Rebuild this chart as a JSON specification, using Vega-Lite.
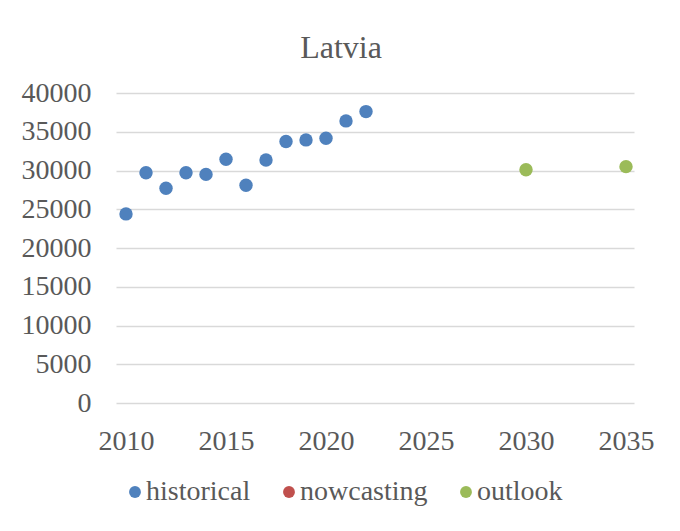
{
  "$schema": "https://vega.github.io/schema/vega-lite/v6.json",
  "width": 518,
  "height": 310,
  "autosize": {"type": "none"},
  "padding": {"left": 116, "top": 93, "right": 46, "bottom": 128},
  "background": "white",
  "title": {"text": "Latvia", "font": "Liberation Serif", "fontSize": 32, "fontWeight": "normal", "color": "#595959", "anchor": "middle", "dx": -34, "offset": -18, "baseline": "bottom"},
  "config": {"view": {"stroke": null}},
  "data": {"values": [
    {"year": 2010, "value": 24400, "series": "historical"},
    {"year": 2011, "value": 29700, "series": "historical"},
    {"year": 2012, "value": 27700, "series": "historical"},
    {"year": 2013, "value": 29700, "series": "historical"},
    {"year": 2014, "value": 29500, "series": "historical"},
    {"year": 2015, "value": 31450, "series": "historical"},
    {"year": 2016, "value": 28100, "series": "historical"},
    {"year": 2017, "value": 31350, "series": "historical"},
    {"year": 2018, "value": 33750, "series": "historical"},
    {"year": 2019, "value": 33950, "series": "historical"},
    {"year": 2020, "value": 34170, "series": "historical"},
    {"year": 2021, "value": 36400, "series": "historical"},
    {"year": 2022, "value": 37600, "series": "historical"},
    {"year": 2030, "value": 30100, "series": "outlook"},
    {"year": 2035, "value": 30500, "series": "outlook"}
  ]},
  "mark": {"type": "point", "filled": true, "opacity": 1, "size": 180, "shape": "circle"},
  "encoding": {
    "x": {"field": "year", "type": "quantitative",
      "scale": {"domain": [2009.5, 2035.4], "nice": false, "zero": false},
      "axis": {"title": null, "values": [2010, 2015, 2020, 2025, 2030, 2035], "format": "d", "grid": false, "domain": false, "ticks": false, "labelPadding": 24, "labelFont": "Liberation Serif", "labelFontSize": 28, "labelColor": "#595959", "labelBaseline": "top"}},
    "y": {"field": "value", "type": "quantitative",
      "scale": {"domain": [0, 40000], "nice": false},
      "axis": {"title": null, "values": [0, 5000, 10000, 15000, 20000, 25000, 30000, 35000, 40000], "format": "d", "grid": true, "gridColor": "#D9D9D9", "gridWidth": 1.5, "domain": false, "ticks": false, "labelPadding": 25, "labelFont": "Liberation Serif", "labelFontSize": 28, "labelColor": "#595959"}},
    "color": {"field": "series", "type": "nominal",
      "scale": {"domain": ["historical", "nowcasting", "outlook"], "range": ["#4F81BD", "#C0504D", "#9BBB59"]},
      "legend": {"title": null, "orient": "none", "direction": "horizontal", "legendX": 5, "legendY": 385, "symbolType": "circle", "symbolSize": 140, "symbolOpacity": 1, "labelFont": "Liberation Serif", "labelFontSize": 28, "labelColor": "#595959", "labelOffset": -3, "columnPadding": 24}}
  }
}
